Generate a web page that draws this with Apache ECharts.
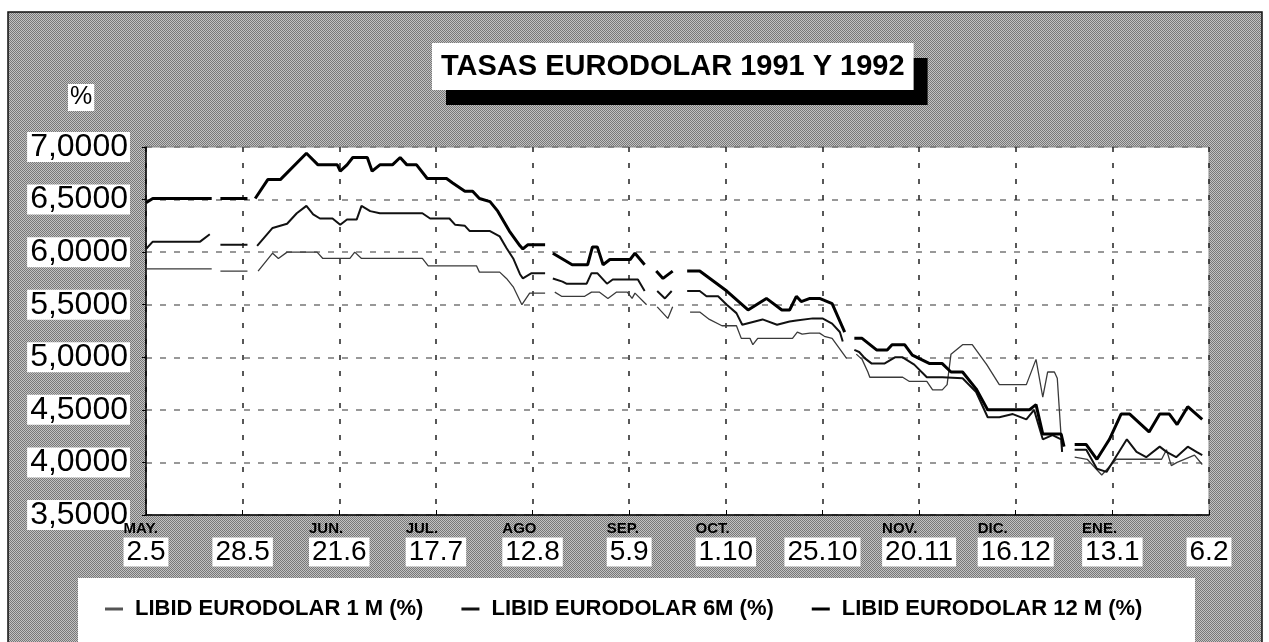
<!DOCTYPE html>
<html><head><meta charset="utf-8">
<script src="https://cdn.jsdelivr.net/npm/echarts/dist/echarts.min.js"></script>
<style>html,body{margin:0;padding:0;background:#fff}#c{width:1269px;height:642px}</style>
</head><body><div id="c"></div><script>
// x positions are in units of the tick spacing (0 = 2.5 MAY ... 11 = 6.2)
const xTickLabels = ['2.5','28.5','21.6','17.7','12.8','5.9','1.10','25.10','20.11','16.12','13.1','6.2'];
const monthLabels = ['MAY.','','JUN.','JUL.','AGO','SEP.','OCT.','','NOV.','DIC.','ENE.',''];
const seriesNames = ['LIBID EURODOLAR 1 M (%)','LIBID EURODOLAR 6M (%)','LIBID EURODOLAR 12 M (%)'];
const titleText = 'TASAS EURODOLAR 1991 Y 1992';
const unitText = '%';

const libid1M = [[0,5.84],[0.68,5.84],null,[0.77,5.82],[1.05,5.82],null,[1.16,5.82],[1.31,5.99],[1.37,5.94],[1.46,6.00],[1.77,6.00],[1.83,5.94],[2.11,5.94],[2.16,6.00],[2.23,5.94],[2.86,5.94],[2.92,5.87],[3.42,5.87],[3.45,5.81],[3.66,5.81],[3.73,5.75],[3.80,5.67],[3.89,5.50],[3.97,5.61],[4.13,5.61],null,
 [4.23,5.62],[4.30,5.58],[4.54,5.58],[4.61,5.62],[4.69,5.62],[4.78,5.56],[4.87,5.62],[4.98,5.62],[5.03,5.56],[5.06,5.61],[5.18,5.50],null,
 [5.29,5.48],[5.40,5.37],[5.45,5.48],null,
 [5.63,5.43],[5.73,5.43],[5.83,5.36],[5.96,5.30],[6.11,5.30],[6.16,5.18],[6.25,5.18],[6.28,5.12],[6.33,5.18],[6.69,5.18],[6.74,5.24],[6.79,5.22],[6.87,5.23],[6.97,5.23],[7.02,5.20],[7.10,5.18],[7.25,4.99],null,
 [7.35,5.03],[7.41,4.98],[7.47,4.86],[7.49,4.81],[7.83,4.81],[7.90,4.77],[8.08,4.77],[8.14,4.69],[8.24,4.69],[8.29,4.74],[8.33,5.03],[8.45,5.12],[8.55,5.12],[8.70,4.93],[8.83,4.74],[9.11,4.74],[9.21,4.98],[9.28,4.62],[9.33,4.86],[9.40,4.86],[9.43,4.80],[9.48,4.10],null,
 [9.61,4.05],[9.74,4.03],[9.83,3.94],[9.89,3.88],[9.94,3.93],[10.04,4.03],[10.15,4.03],[10.35,4.03],[10.51,4.03],[10.56,4.12],[10.61,3.97],[10.67,4.00],[10.85,4.07],[10.93,3.98]];

const libid6M = [[0,6.03],[0.07,6.10],[0.56,6.10],[0.66,6.17],null,[0.77,6.07],[1.05,6.07],null,[1.15,6.06],[1.31,6.23],[1.46,6.27],[1.56,6.37],[1.66,6.44],[1.73,6.36],[1.80,6.32],[1.93,6.32],[2.01,6.26],[2.08,6.31],[2.18,6.31],[2.23,6.44],[2.32,6.39],[2.42,6.37],[2.86,6.37],[2.94,6.32],[3.14,6.32],[3.20,6.26],[3.30,6.25],[3.35,6.20],[3.56,6.20],[3.66,6.15],[3.73,6.04],[3.80,5.94],[3.87,5.79],[3.90,5.75],[3.99,5.80],[4.13,5.80],null,
 [4.21,5.75],[4.31,5.72],[4.35,5.70],[4.56,5.70],[4.61,5.80],[4.67,5.80],[4.77,5.70],[4.83,5.74],[5.09,5.74],[5.16,5.63],null,
 [5.29,5.63],[5.37,5.56],[5.44,5.63],null,
 [5.60,5.63],[5.73,5.63],[5.80,5.58],[5.92,5.58],[6.01,5.50],[6.11,5.42],[6.17,5.31],[6.38,5.36],[6.53,5.31],[6.66,5.34],[6.73,5.35],[6.90,5.37],[7.00,5.37],[7.10,5.32],[7.18,5.24],[7.21,5.15],null,
 [7.33,5.07],[7.38,5.05],[7.44,4.99],[7.51,4.94],[7.64,4.94],[7.75,5.00],[7.83,5.00],[7.95,4.93],[8.08,4.81],[8.24,4.81],[8.45,4.80],[8.59,4.67],[8.71,4.43],[8.83,4.43],[8.97,4.46],[9.11,4.41],[9.19,4.50],[9.28,4.22],[9.38,4.26],[9.47,4.22],[9.48,4.10],null,
 [9.61,4.12],[9.73,4.12],[9.84,3.94],[9.94,3.91],[10.00,4.00],[10.15,4.22],[10.25,4.10],[10.35,4.05],[10.49,4.15],[10.56,4.10],[10.66,4.05],[10.78,4.15],[10.87,4.10],[10.93,4.07]];

const libid12M = [[0,6.47],[0.07,6.51],[0.68,6.51],null,[0.77,6.51],[1.05,6.51],null,[1.13,6.51],[1.26,6.69],[1.39,6.69],[1.66,6.94],[1.78,6.83],[1.98,6.83],[2.01,6.77],[2.08,6.83],[2.14,6.90],[2.29,6.90],[2.34,6.77],[2.42,6.83],[2.55,6.83],[2.63,6.90],[2.70,6.83],[2.80,6.83],[2.91,6.70],[3.11,6.70],[3.17,6.66],[3.30,6.58],[3.38,6.58],[3.45,6.51],[3.56,6.48],[3.64,6.39],[3.76,6.20],[3.87,6.06],[3.90,6.03],[3.95,6.07],[4.13,6.07],null,
 [4.21,5.99],[4.41,5.88],[4.57,5.88],[4.62,6.05],[4.67,6.05],[4.73,5.88],[4.80,5.93],[5.01,5.93],[5.06,5.99],[5.16,5.88],null,
 [5.28,5.82],[5.35,5.75],[5.45,5.82],null,
 [5.60,5.82],[5.73,5.82],[6.01,5.63],[6.23,5.45],[6.42,5.56],[6.58,5.45],[6.66,5.45],[6.73,5.58],[6.78,5.53],[6.87,5.56],[6.97,5.56],[7.10,5.51],[7.23,5.24],null,
 [7.33,5.18],[7.41,5.18],[7.56,5.07],[7.67,5.07],[7.72,5.12],[7.85,5.12],[7.93,5.02],[8.11,4.94],[8.24,4.94],[8.33,4.86],[8.45,4.86],[8.59,4.70],[8.71,4.50],[9.14,4.50],[9.21,4.55],[9.28,4.27],[9.47,4.27],[9.50,4.15],null,
 [9.61,4.17],[9.73,4.17],[9.84,4.03],[9.97,4.22],[10.09,4.46],[10.18,4.46],[10.38,4.29],[10.49,4.46],[10.59,4.46],[10.67,4.36],[10.78,4.53],[10.93,4.41]];

function prep(arr){
  return arr.map((p,i)=>{
    if(p) return p;
    const a=arr[i-1], b=arr[i+1];
    return [(a[0]+b[0])/2,'-'];
  });
}

// dithered gray pattern
const pc=document.createElement('canvas'); pc.width=4; pc.height=4;
const pctx=pc.getContext('2d');
pctx.fillStyle='#c2c2c2'; pctx.fillRect(0,0,4,4);
pctx.fillStyle='#787878';
for(let i=0;i<4;i++)for(let j=0;j<4;j++) if((i+j)%2===0) pctx.fillRect(i,j,1,1);
const pattern={image:pc,repeat:'repeat'};

const FONT='"Liberation Sans", Arial, sans-serif';
const lineColors=['#555','#111','#000'];
const chart=echarts.init(document.getElementById('c'),null,{renderer:'canvas'});
chart.setOption({
  animation:false,
  backgroundColor:'#fff',
  textStyle:{fontFamily:FONT},
  title:{
    text:titleText, left:432, top:43,
    backgroundColor:'#fff', padding:[8,9,7,9],
    shadowColor:'#000', shadowBlur:0, shadowOffsetX:14, shadowOffsetY:15,
    textStyle:{fontFamily:FONT,fontSize:29,fontWeight:'bold',color:'#000',lineHeight:32}
  },
  graphic:[
    {type:'rect',z:-100,shape:{x:8,y:12,width:1254,height:640},style:{fill:pattern,stroke:'#111',lineWidth:1.5}},
    {type:'rect',z:-90,shape:{x:78,y:578,width:1117,height:70},style:{fill:'#fff'}},
    {type:'text',z:5,left:68,top:84,style:{text:unitText,fontFamily:FONT,fontSize:25,fill:'#000',backgroundColor:'#fff',padding:[1,2]}}
  ],
  legend:{
    left:100, top:593, itemWidth:18, itemHeight:3, itemGap:38,
    data:seriesNames.map((n,i)=>({name:n,icon:'rect',itemStyle:{color:lineColors[i]}})),
    textStyle:{fontFamily:FONT,fontSize:22,fontWeight:'bold',color:'#000',padding:[0,0,0,7]}
  },
  grid:{left:146,right:60,top:147,bottom:127,show:true,backgroundColor:'#fff',borderColor:'#888',borderWidth:1},
  xAxis:{
    type:'value',min:0,max:11,interval:1,
    axisLine:{lineStyle:{color:'#000',width:1.5}},
    axisTick:{inside:true,length:5,lineStyle:{color:'#000'}},
    splitLine:{show:true,lineStyle:{color:'#222',width:1.5,type:[5,11]}},
    axisLabel:{
      margin:4, showMinLabel:true, showMaxLabel:true,
      formatter:v=>'{m|'+(monthLabels[v]||' ')+'}\n{d|'+xTickLabels[v]+'}',
      rich:{
        m:{fontFamily:FONT,fontSize:15,fontWeight:'bold',color:'#000',lineHeight:20,align:'left'},
        d:{fontFamily:FONT,fontSize:28,color:'#000',lineHeight:26,backgroundColor:'#fff',padding:[1,3,0,3]}
      }
    }
  },
  yAxis:{
    type:'value',min:3.5,max:7,interval:0.5,
    axisLine:{show:true,lineStyle:{color:'#000',width:1.5}},
    axisTick:{show:true,length:4,lineStyle:{color:'#000'}},
    splitLine:{show:true,lineStyle:{color:'#777',width:1.5,type:[6,8]}},
    axisLabel:{
      margin:16, fontFamily:FONT, fontSize:32, color:'#000',
      backgroundColor:'#fff', padding:[0,2,0,3], lineHeight:30,
      formatter:v=>v.toFixed(4).replace('.',',')
    }
  },
  series:[
    {name:seriesNames[0],type:'line',symbol:'none',connectNulls:false,data:prep(libid1M),lineStyle:{color:'#3a3a3a',width:1.3},itemStyle:{color:lineColors[0]},z:3},
    {name:seriesNames[1],type:'line',symbol:'none',connectNulls:false,data:prep(libid6M),lineStyle:{color:'#111',width:2},itemStyle:{color:lineColors[1]},z:4},
    {name:seriesNames[2],type:'line',symbol:'none',connectNulls:false,data:prep(libid12M),lineStyle:{color:'#000',width:3},itemStyle:{color:lineColors[2]},z:5}
  ]
});
</script></body></html>
